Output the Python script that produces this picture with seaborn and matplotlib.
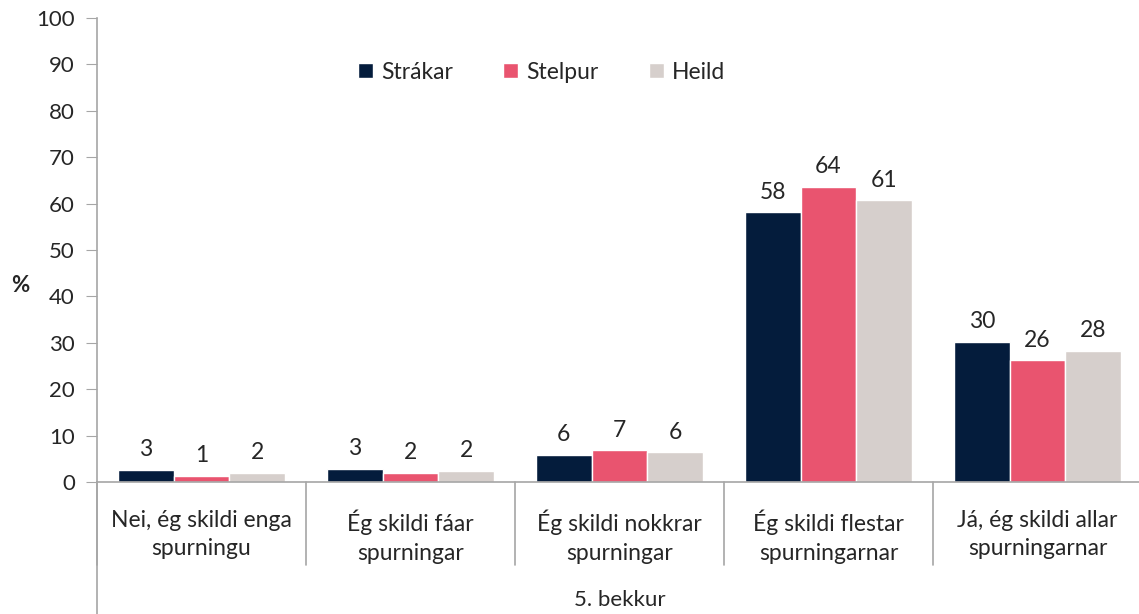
import pandas as pd
import numpy as np
import matplotlib.pyplot as plt
import seaborn as sns

categories = [
    "Nei, ég skildi enga\nspurningu",
    "Ég skildi fáar\nspurningar",
    "Ég skildi nokkrar\nspurningar",
    "Ég skildi flestar\nspurningarnar",
    "Já, ég skildi allar\nspurningarnar",
]
series = ["Strákar", "Stelpur", "Heild"]
strakar = [2.6, 2.8, 5.9, 58.1, 30.2]
stelpur = [1.3, 1.9, 6.8, 63.6, 26.2]
heild = [1.9, 2.4, 6.4, 60.7, 28.3]
colors = ["#041C3C", "#E9546F", "#D6CFCC"]
group_label = "5. bekkur"

df = pd.DataFrame({
    "flokkur": categories * 3,
    "hópur": np.repeat(series, len(categories)),
    "gildi": strakar + stelpur + heild,
})

sns.set_style("white")
plt.rcParams["font.family"] = ["Lato", "DejaVu Sans"]

fig = plt.figure(figsize=(11.39, 6.14), dpi=100)
ax = fig.add_axes([97 / 1139, 132 / 614, 1045 / 1139, 464 / 614])

sns.barplot(data=df, x="flokkur", y="gildi", hue="hópur", palette=colors,
            width=0.8, ax=ax, saturation=1, errorbar=None)

for cont in ax.containers:
    ax.bar_label(cont, labels=[f"{v:.0f}" for v in cont.datavalues],
                 padding=7, fontsize=16.5)

ax.set_ylim(0, 100)
ax.set_xlim(-0.5, 4.5)
ax.set_yticks(range(0, 101, 10))
ax.tick_params(axis="y", labelsize=16, length=8, color="#A6A6A6", left=True, pad=8)
ax.tick_params(axis="x", labelsize=16.5, length=0, pad=20)
for lab in ax.get_xticklabels():
    lab.set_linespacing(1.45)
ax.set_xlabel("")
ax.set_ylabel("%", fontsize=16, fontweight="bold", rotation=0)
ax.yaxis.set_label_coords(-0.073, 0.40)

for s in ["top", "right"]:
    ax.spines[s].set_visible(False)
for s in ["left", "bottom"]:
    ax.spines[s].set_color("#A6A6A6")
    ax.spines[s].set_linewidth(1.2)

# category separators below the axis and the long left line
trans = ax.get_xaxis_transform()
for b in np.arange(-0.5, 5, 1):
    ax.plot([b, b], [0, -83 / 464], color="#A6A6A6", lw=1.2,
            transform=trans, clip_on=False)
ax.plot([-0.5, -0.5], [0, -132 / 464], color="#A6A6A6", lw=1.2,
        transform=trans, clip_on=False)
ax.text(2.0, -118 / 464, group_label, transform=trans, ha="center",
        va="center", fontsize=16)

ax.legend(loc="upper left", bbox_to_anchor=(0.23, 0.95), ncol=3, frameon=False,
          fontsize=16.5, handlelength=0.65, handleheight=0.65, columnspacing=2.2,
          handletextpad=0.35, title=None)

fig.savefig("out.png", dpi=100, facecolor="white")
